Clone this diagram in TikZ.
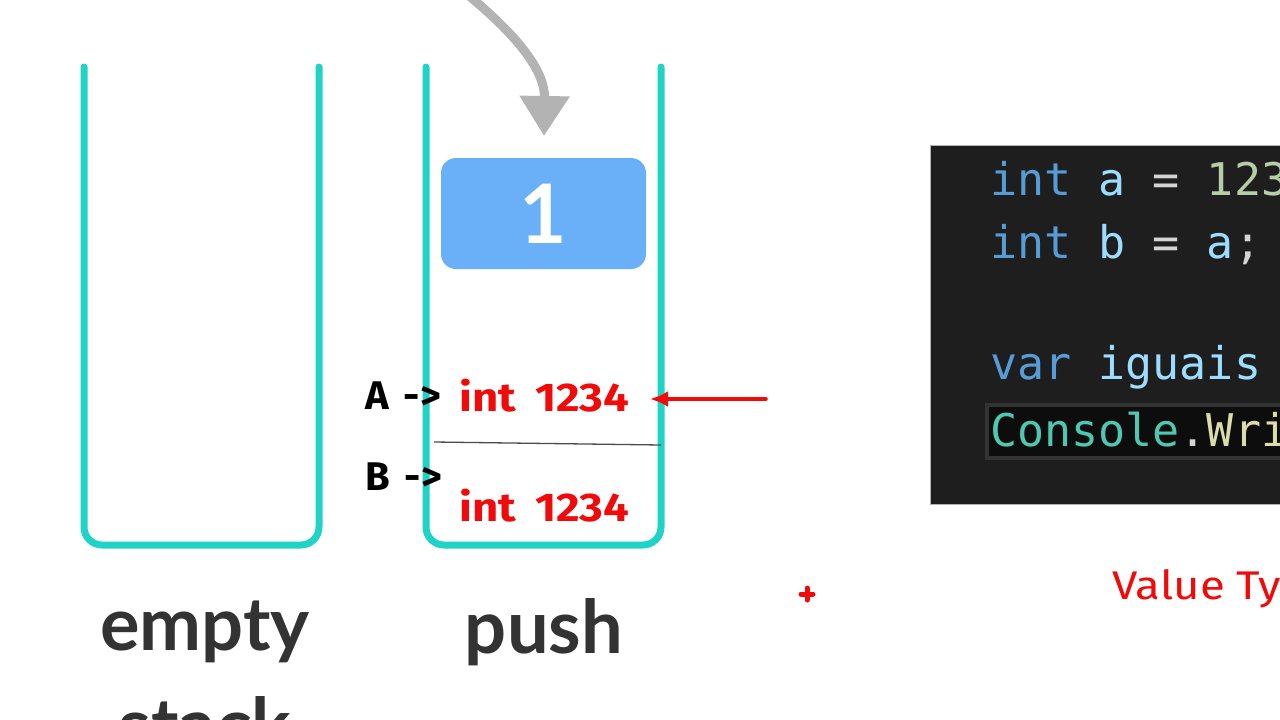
\documentclass[tikz,border=0pt]{standalone}
\usepackage{fontspec}
\usepackage{graphicx}
\setmainfont{Fira Sans}
\newfontfamily\latofont{Lato}
\newfontfamily\monofont{DejaVu Sans Mono}
\usetikzlibrary{arrows.meta}
\definecolor{teal1}{HTML}{1FD3C6}
\definecolor{blockblue}{HTML}{6AB0F8}
\definecolor{arrowgray}{HTML}{B3B3B3}
\definecolor{lblgray}{HTML}{333333}
\definecolor{codebg}{HTML}{1E1E1E}
\definecolor{kw}{HTML}{569CD6}
\definecolor{var}{HTML}{9CDCFE}
\definecolor{op}{HTML}{D4D4D4}
\definecolor{num}{HTML}{B5CEA8}
\definecolor{cls}{HTML}{4EC9B0}
\definecolor{fn}{HTML}{DCDCAA}
\definecolor{redtxt}{HTML}{F00A0A}
\tikzset{
  stackwall/.style={draw=teal1, line width=7pt, rounded corners=18pt, line cap=round},
  cellval/.style={text=redtxt, font=\bfseries\fontsize{40}{44}\selectfont, anchor=west, inner sep=0pt},
  ptr/.style={text=black, font=\bfseries\fontsize{40}{44}\selectfont, anchor=west, inner sep=0pt},
  stacklbl/.style={text=lblgray, font=\latofont\bfseries\fontsize{74}{80}\selectfont, inner sep=0pt},
  codeline/.style={font=\monofont\fontsize{45}{50}\selectfont, anchor=west, inner sep=0pt},
}
\newcommand{\wideval}{\scalebox{1.14}[1]{int\hspace{17pt}1234}}
\begin{document}
\begin{tikzpicture}[x=1pt,y=-1pt]
\useasboundingbox (0,0) rectangle (1280,720);
\clip (0,0) rectangle (1280,720);
\fill[white] (0,0) rectangle (1280,720);
% stacks
\draw[stackwall] (84,67) -- (84,545) -- (319,545) -- (319,67);
\draw[stackwall] (426,67) -- (426,545) -- (661,545) -- (661,67);
% gray push arrow
\coordinate (arrStart) at (468,-5);
\coordinate (arrEnd) at (544,136);
\draw[arrowgray, line width=9pt, -{Triangle[width=48pt,length=40pt]}] (arrStart) .. controls (520,38) and (545,72) .. (arrEnd);
% block
\node[fill=blockblue, rounded corners=15pt, minimum width=205pt, minimum height=111pt, inner sep=0pt,
  text=white, font=\latofont\bfseries\fontsize{82}{82}\selectfont] (blk) at (543.5,213.5) {1};
% pointers and values
\node[ptr] (A) at (365,396) {A\hspace{15pt}->};
\node[cellval] (va) at (459,396) {\wideval};
\node[ptr] (B) at (365,477) {B\hspace{15pt}->};
\node[cellval] (vb) at (459,506) {\wideval};
\coordinate (sepL) at (434,442);
\coordinate (sepR) at (661,445);
\draw[black!70, line width=1.3pt] (sepL) -- (sepR);
\coordinate (redStart) at (766,399);
\coordinate (redEnd) at (650,399);
\draw[redtxt, line width=3.5pt, line cap=round, -{Latex[length=18pt,width=16pt]}] (redStart) -- (redEnd);
% labels
\node[stacklbl] (lempty) at (205,632) {empty};
\node[stacklbl] (lstack) at (205,724) {stack};
\node[stacklbl] (lpush) at (544,632) {push};
% code panel
\fill[codebg] (930,145) rectangle (1290,504);
\draw[gray!60, line width=0.8pt] (930,145) rectangle (1290,504);
\draw[black!60!gray, fill=black!95, line width=4pt] (987,405) rectangle (1300,458);
\node[codeline] (c1) at (990,182) {\textcolor{kw}{int} \textcolor{var}{a} \textcolor{op}{=} \textcolor{num}{1234};};
\node[codeline] (c2) at (990,245) {\textcolor{kw}{int} \textcolor{var}{b} \textcolor{op}{=} \textcolor{var}{a}\textcolor{op}{;}};
\node[codeline] (c3) at (990,367) {\textcolor{kw}{var} \textcolor{var}{iguais} \textcolor{op}{=}};
\node[codeline] (c4) at (990,430) {\textcolor{cls}{Console}\textcolor{op}{.}\textcolor{fn}{WriteLine}};
% red plus
\coordinate (plusC) at (807,594);
\draw[redtxt, line width=5pt, line cap=round] ([xshift=-6pt]plusC) -- ([xshift=6pt]plusC);
\draw[redtxt, line width=5pt, line cap=round] ([yshift=-6pt]plusC) -- ([yshift=6pt]plusC);
% value types caption
\node[text=redtxt, font=\fontsize{40}{44}\selectfont, anchor=west, inner sep=0pt] (vt) at (1112,589) {\scalebox{1.14}[1]{Value Types}};
\end{tikzpicture}
\end{document}
